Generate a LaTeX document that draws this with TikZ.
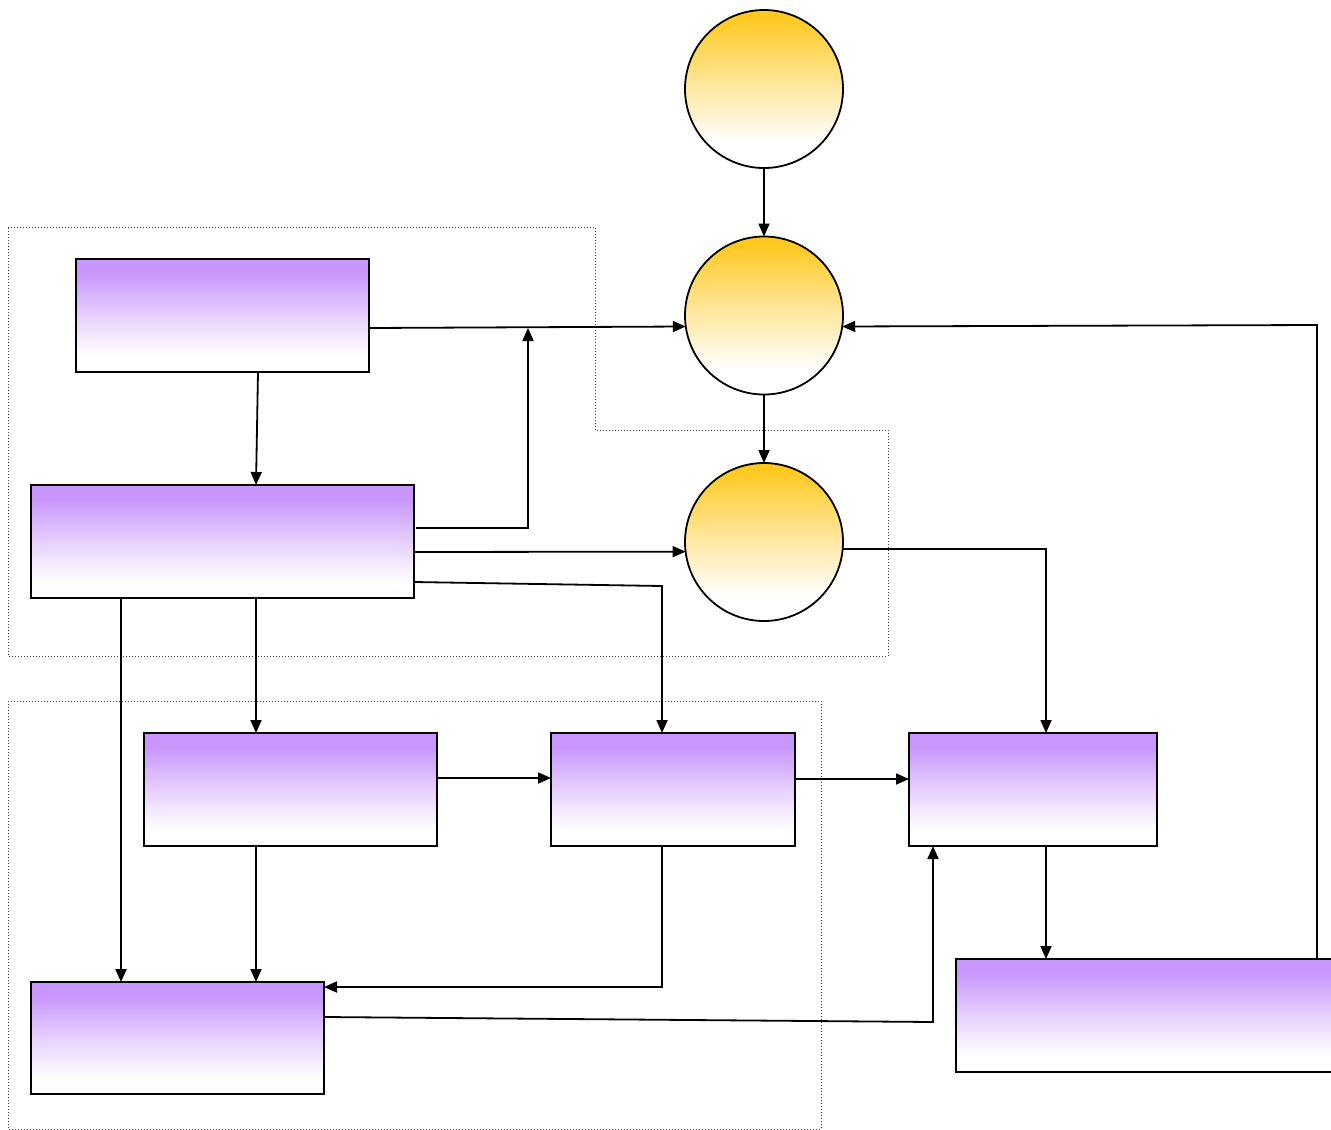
\documentclass[tikz,border=0pt]{standalone}
\usetikzlibrary{arrows.meta,calc}
\definecolor{boxtop}{RGB}{200,150,252}
\definecolor{circtop}{RGB}{255,200,30}
\pgfdeclareverticalshading{boxshade}{100bp}{color(0bp)=(white); color(25bp)=(white); color(32bp)=(white); color(50bp)=(boxtop!45!white); color(69bp)=(boxtop); color(100bp)=(boxtop)}
\pgfdeclareverticalshading{circshade}{100bp}{color(0bp)=(white); color(25bp)=(white); color(33bp)=(white); color(52bp)=(circtop!45!white); color(73bp)=(circtop); color(100bp)=(circtop)}
\begin{document}
\begin{tikzpicture}[x=1pt,y=-1pt,
  boxnode/.style={draw=black,line width=1.8pt,inner sep=0pt,outer sep=0pt,shading=boxshade,rectangle},
  circnode/.style={draw=black,line width=1.8pt,inner sep=0pt,outer sep=0pt,shading=circshade,circle,minimum size=158pt},
  arr/.style={line width=1.8pt,-{Triangle[length=13pt,width=11pt]}},
  region/.style={draw=black!75,line width=1pt,dotted}]
\useasboundingbox (0,0) rectangle (1331,1130);
% regions
\draw[region] (8,227) -- (595,227) -- (595,430) -- (888,430) -- (888,656) -- (8,656) -- cycle;
\draw[region] (8,701) rectangle (821,1129);
% circles
\node[circnode] (C1) at (764,89) {};
\node[circnode] (C2) at (764,315.5) {};
\node[circnode] (C3) at (764,542) {};
% boxes
\node[boxnode,minimum width=293pt,minimum height=113pt] (A) at (222.5,315.5) {};
\node[boxnode,minimum width=383pt,minimum height=113pt] (B) at (222.5,541.5) {};
\node[boxnode,minimum width=293pt,minimum height=113pt] (C) at (290.5,789.5) {};
\node[boxnode,minimum width=244pt,minimum height=113pt] (D) at (673,789.5) {};
\node[boxnode,minimum width=248pt,minimum height=113pt] (E) at (1033,789.5) {};
\node[boxnode,minimum width=293pt,minimum height=112pt] (F) at (177.5,1038) {};
\node[boxnode,minimum width=380pt,minimum height=113pt] (G) at (1146,1015.5) {};
% bend coordinates
\coordinate (J) at (528,328);
\coordinate (bd) at (662,586);
\coordinate (fe) at (933,1022);
\coordinate (gc) at (1317,325);
% connectors
\draw[arr] (C1.south) -- (C2.north);
\draw[arr] (C2.south) -- (C3.north);
\draw[arr] ([yshift=-12.5pt]A.east) -- (C2.188);
\draw[arr] ([yshift=13.5pt,xshift=2pt]B.east) -| (J);
\draw[arr] ([yshift=-10.5pt]B.east) -- (C3.187);
\draw[arr] ([yshift=-40.5pt]B.east) -- (bd) -- ([xshift=-11pt]D.north);
\draw[arr] ([xshift=35.5pt]A.south) -- ([xshift=33.5pt]B.north);
\draw[arr] ([xshift=33.5pt]B.south) -- ([xshift=-34.5pt]C.north);
\draw[arr] ([xshift=-101.5pt]B.south) -- ([xshift=-56.5pt]F.north);
\draw[arr] ([xshift=-34.5pt]C.south) -- ([xshift=78.5pt]F.north);
\draw[arr] ([yshift=11.5pt]C.east) -- ([yshift=11.5pt]D.west);
\draw[arr] ([xshift=-11pt]D.south) |- ([yshift=51pt]F.east);
\draw[arr] ([yshift=10.5pt]D.east) -- ([yshift=10.5pt]E.west);
\draw[arr] (C3.355) -| ([xshift=13pt]E.north);
\draw[arr] ([xshift=13pt]E.south) -- ([xshift=-100pt]G.north);
\draw[arr] ([yshift=21pt]F.east) -- (fe) -- ([xshift=-100pt]E.south);
\draw[arr] ([xshift=171pt]G.north) -- (gc) -- (C2.352);
\end{tikzpicture}
\end{document}
